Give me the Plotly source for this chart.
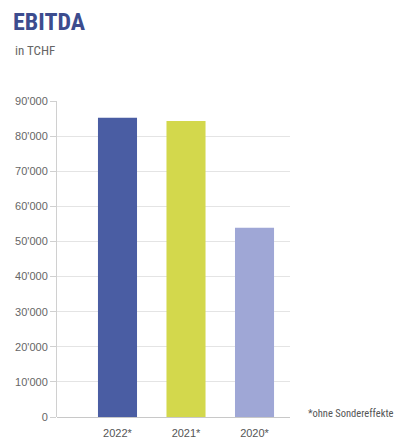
import plotly.graph_objects as go

categories = ["2022*", "2021*", "2020*"]
values = [85200, 84300, 53900]
colors = ["#4a5da3", "#d3d84c", "#9fa7d6"]
tick_vals = [0, 10000, 20000, 30000, 40000, 50000, 60000, 70000, 80000, 90000]
tick_text = ["0", "10'000", "20'000", "30'000", "40'000", "50'000",
             "60'000", "70'000", "80'000", "90'000"]

W, H = 403, 441
L, R, T, B = 57, 113, 101, 24

fig = go.Figure()
fig.add_trace(go.Bar(
    x=list(range(len(categories))), y=values,
    marker=dict(color=colors, line=dict(width=0)),
    width=0.57, hoverinfo="skip",
))

font_family = "Liberation Sans Narrow, Roboto Condensed, Liberation Sans, Arial, sans-serif"

fig.update_layout(
    width=W, height=H,
    margin=dict(l=L, r=R, t=T, b=B),
    paper_bgcolor="white", plot_bgcolor="white",
    showlegend=False,
    title=dict(text="<b>EBITDA</b>", x=13 / W, xref="container", xanchor="left",
               y=1 - 22 / H, yref="container", yanchor="middle",
               font=dict(family=font_family, size=24, color="#3c4c8e")),
    font=dict(family="Liberation Sans, Arial, sans-serif", size=11, color="#666"),
    xaxis=dict(
        tickmode="array", tickvals=list(range(len(categories))), ticktext=categories,
        range=[-0.883, 2.518], showgrid=False, zeroline=False,
        showline=False, ticks="", ticklabelstandoff=8, automargin=False,
        tickfont=dict(size=11, color="#555"),
    ),
    yaxis=dict(
        range=[0, 90000], tickvals=tick_vals, ticktext=tick_text,
        showgrid=True, gridcolor="#e4e4e4", gridwidth=1,
        zeroline=True, zerolinecolor="#c8c8c8", zerolinewidth=1,
        showline=True, linecolor="#d0d0d0", linewidth=1,
        ticks="outside", ticklen=6, tickcolor="#d0d0d0", automargin=False,
        tickfont=dict(size=11, color="#666"),
    ),
    annotations=[
        dict(text="in TCHF", xref="paper", yref="paper",
             x=(13 - L) / (W - L - R), y=(H - B - 50) / (H - T - B),
             xanchor="left", yanchor="middle", showarrow=False,
             font=dict(family="Roboto Condensed, Liberation Sans, sans-serif",
                       size=13, color="#666")),
        dict(text="*ohne Sondereffekte", xref="paper", yref="paper",
             x=(306 - L) / (W - L - R), y=(H - B - 413) / (H - T - B),
             xanchor="left", yanchor="middle", showarrow=False,
             font=dict(family=font_family, size=10.5, color="#555")),
    ],
)

fig.write_html("out.html")
